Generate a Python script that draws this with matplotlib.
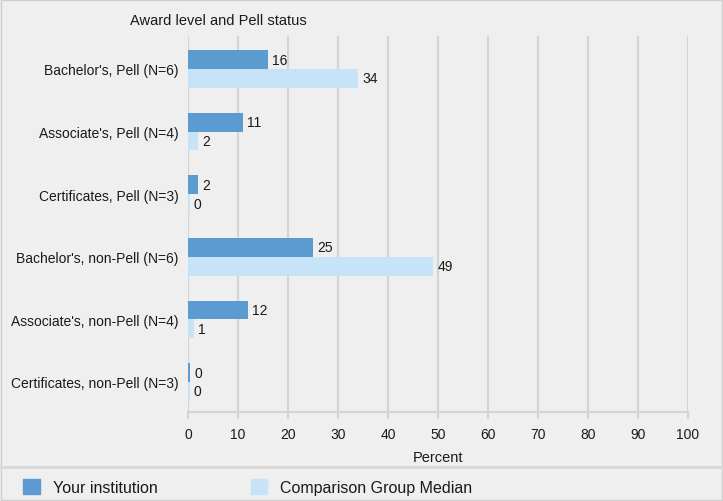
import numpy as np
import matplotlib.pyplot as plt
from matplotlib.patches import Patch

plt.rcParams['font.family'] = ['Liberation Sans', 'DejaVu Sans']

categories = ["Bachelor's, Pell (N=6)", "Associate's, Pell (N=4)",
              "Certificates, Pell (N=3)", "Bachelor's, non-Pell (N=6)",
              "Associate's, non-Pell (N=4)", "Certificates, non-Pell (N=3)"]
your_inst = [16, 11, 2, 25, 12, 0.4]
comparison = [34, 2, 0.3, 49, 1.2, 0.3]
series_names = ["Your institution", "Comparison Group Median"]
x_ticks = list(range(0, 101, 10))

dark = "#5b9bd0"
light = "#c6e3f7"
bg = "#efefef"
grid_c = "#d4d4d4"
txt = "#1a1a1a"


def main():
    fig = plt.figure(figsize=(7.23, 5.02), dpi=100, facecolor=bg)
    ax = fig.add_axes([188 / 723, 89 / 502, 500 / 723, 376 / 502])
    ax.set_facecolor(bg)

    y = np.arange(len(categories))
    h = 0.3
    b1 = ax.barh(y - h / 2, your_inst, height=h, color=dark)
    b2 = ax.barh(y + h / 2, comparison, height=h, color=light)
    ax.bar_label(b1, labels=[f"{round(v):d}" for v in your_inst],
                 padding=3, fontsize=10, color=txt)
    ax.bar_label(b2, labels=[f"{round(v):d}" for v in comparison],
                 padding=3, fontsize=10, color=txt)

    ax.set_xlim(0, 100)
    ax.set_ylim(len(categories) - 0.52, -0.527)
    ax.set_xticks(x_ticks)
    ax.set_yticks(y)
    ax.set_yticklabels(categories, fontsize=10, color=txt)
    ax.tick_params(axis="y", length=0, pad=7)
    ax.tick_params(axis="x", length=5, color=grid_c, width=1.5,
                   labelsize=10, labelcolor=txt, pad=5.5)
    ax.grid(axis="x", color=grid_c, linewidth=1.5)
    ax.set_axisbelow(True)
    for s in ["top", "right", "left"]:
        ax.spines[s].set_visible(False)
    ax.spines["bottom"].set_color(grid_c)
    ax.spines["bottom"].set_linewidth(1.5)
    ax.set_xlabel("Percent", fontsize=10.5, labelpad=6.5, color=txt)

    fig.text(130 / 723, 1 - 21 / 502, "Award level and Pell status",
             fontsize=10.5, ha="left", va="center", color=txt)

    # separator above legend
    fig.add_artist(plt.Line2D([0, 1], [1 - 468 / 502] * 2, color="#d8d8d8",
                              linewidth=2, transform=fig.transFigure))
    # outer border
    fig.add_artist(plt.Rectangle((0.001, 0.001), 0.998, 0.997, fill=False,
                                 edgecolor="#cfcfcf", linewidth=1,
                                 transform=fig.transFigure))

    handles = [Patch(color=dark), Patch(color=light)]
    fig.legend(handles, series_names, loc="center left",
               bbox_to_anchor=(0.0125, 1 - 488 / 502), ncol=2, frameon=False,
               fontsize=11.5, handlelength=1.06, handleheight=1.06,
               handletextpad=0.8, columnspacing=5.8, labelcolor=txt)

    fig.savefig("out.png", dpi=100, facecolor=bg)


if __name__ == '__main__':
    main()
